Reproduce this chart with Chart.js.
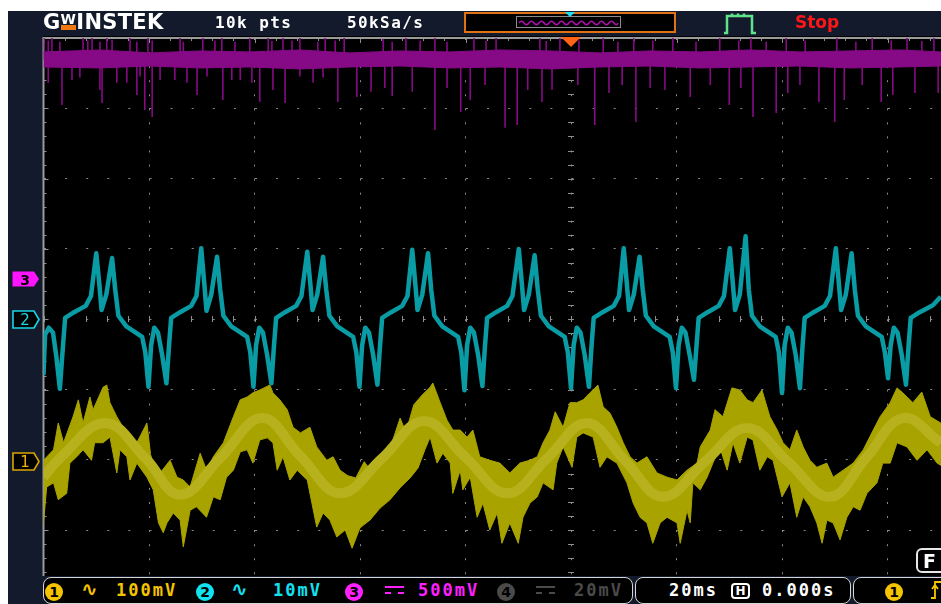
<!DOCTYPE html>
<html>
<head>
<meta charset="utf-8">
<script src="https://cdn.jsdelivr.net/npm/chart.js@4.4.1/dist/chart.umd.min.js"></script>
<style>
  html, body { margin:0; padding:0; background:#fff; }
  body { width:941px; height:604px; position:relative; overflow:hidden; font-family:"DejaVu Sans Mono", monospace; }
  .abs { position:absolute; }
  #frame { left:8px; top:11px; width:933px; height:593px; background:#131a2b; }
  #plot { left:43px; top:36px; width:898px; height:568px; background:#000; }
  #cv { position:absolute; left:0; top:0; }
  .hd { color:#fff; font-size:16px; font-weight:bold; letter-spacing:1.4px; top:14px; line-height:18px; }
  #logo { left:43px; top:11px; color:#fff; font:bold 21px "DejaVu Sans", sans-serif; letter-spacing:0.3px; line-height:22px; }
  #logo .w { display:inline-block; font-size:14px; line-height:11px; border-bottom:5px solid #f07a10; vertical-align:top; margin-top:3px; }
  #stop { left:795px; top:12px; color:#ff1616; font:bold 17px "DejaVu Sans", sans-serif; }
  .box { border:1.5px solid #d6d6d6; border-radius:8px; background:#000; box-sizing:border-box; }
  .lbl { font-weight:bold; font-size:17px; letter-spacing:2px; line-height:18px; top:581px; }
  .num { width:18px; height:18px; border-radius:50%; top:583px; color:#000; font:bold 14px "DejaVu Sans", sans-serif; text-align:center; line-height:18px; }
  .wave { top:578px; font:bold 20px "DejaVu Sans", sans-serif; line-height:22px; }
  .dc { top:586px; width:19px; height:4px; border-top:2px solid; border-bottom:2px dashed; }
  .mk { left:12px; }
</style>
</head>
<body>
<div id="frame" class="abs"></div>
<div id="plot" class="abs"></div>
<canvas id="cv" width="941" height="604"></canvas>

<!-- header -->
<div class="abs" style="left:8px;top:11px;width:933px;height:25px;background:#131a2b;"></div>
<div id="logo" class="abs">G<span class="w">W</span>INSTEK</div>
<div class="abs hd" style="left:215px;">10k pts</div>
<div class="abs hd" style="left:347px;">50kSa/s</div>
<div class="abs" style="left:464px;top:12px;width:212px;height:21px;border:2px solid #e07212;background:#000;box-sizing:border-box;"></div>
<svg class="abs" style="left:516px;top:16px;" width="106" height="13">
  <rect x="0.5" y="0.5" width="104" height="11" fill="none" stroke="#8c8c8c"/>
  <path d="M3,7 Q5.5,3.5 8,7 T13,7 T18,7 T23,7 T28,7 T33,7 T38,7 T43,7 T48,7 T53,7 T58,7 T63,7 T68,7 T73,7 T78,7 T83,7 T88,7 T93,7 T98,7 T102,7" fill="none" stroke="#b010b0" stroke-width="1.5"/>
</svg>
<svg class="abs" style="left:565px;top:12px;" width="11" height="6"><polygon points="0,0 10,0 5,5" fill="#1ee0f0"/></svg>
<svg class="abs" style="left:722px;top:13px;" width="36" height="22">
  <path d="M2,20 H5 V3 H30 V20 H34 M10,3 V0.5 M16,3 V0.5 M22,3 V0.5" fill="none" stroke="#5fe38a" stroke-width="2.5"/>
</svg>
<div id="stop" class="abs">Stop</div>
<svg id="trig" class="abs" style="top:37px;" width="20" height="11"><polygon points="0,0 20,0 10,10" fill="#ff6416"/></svg>

<!-- channel markers -->
<svg id="m3" class="abs mk" width="28" height="16"><polygon points="0.5,0.5 22,0.5 27,8 22,15.5 0.5,15.5" fill="#ff14ff"/><text x="13" y="13.5" text-anchor="middle" font-family="DejaVu Sans" font-weight="bold" font-size="14" fill="#000">3</text></svg>
<svg id="m2" class="abs mk" width="29" height="19"><polygon points="1,1 22,1 27,9.5 22,18 1,18" fill="#000" stroke="#19d6e6" stroke-width="1.6"/><text x="13" y="15" text-anchor="middle" font-family="DejaVu Sans" font-size="15" fill="#19d6e6">2</text></svg>
<svg id="m1" class="abs mk" width="29" height="19"><polygon points="1,1 22,1 27,9.5 22,18 1,18" fill="#000" stroke="#dca400" stroke-width="1.6"/><text x="13" y="15" text-anchor="middle" font-family="DejaVu Sans" font-size="15" fill="#f0b400">1</text></svg>

<!-- F box -->
<div class="abs box" style="left:916px;top:548px;width:40px;height:25px;border:2px solid #e8e8e8;border-radius:6px;"></div>
<div class="abs" style="left:923px;top:550px;color:#fff;font:bold 19px 'DejaVu Sans',sans-serif;">F</div>

<!-- bottom bar -->
<div class="abs" style="left:8px;top:576px;width:933px;height:28px;background:#131a2b;"></div>
<div class="abs box" style="left:43px;top:577px;width:590px;height:27px;"></div>
<div class="abs box" style="left:635px;top:577px;width:216px;height:27px;"></div>
<div class="abs box" style="left:853px;top:577px;width:100px;height:27px;"></div>

<div class="abs num" style="left:45px;background:#f5c400;">1</div>
<div class="abs wave" style="left:81px;color:#f5c400;">∿</div>
<div class="abs lbl" style="left:116px;color:#f5c400;">100mV</div>
<div class="abs num" style="left:196px;background:#10e2f0;">2</div>
<div class="abs wave" style="left:231px;color:#10e2f0;">∿</div>
<div class="abs lbl" style="left:273px;color:#10e2f0;">10mV</div>
<div class="abs num" style="left:345px;background:#ff20ff;">3</div>
<div class="abs dc" style="left:385px;color:#ff20ff;"></div>
<div class="abs lbl" style="left:418px;color:#ff20ff;">500mV</div>
<div class="abs num" style="left:497px;background:#4a4a4a;">4</div>
<div class="abs dc" style="left:536px;color:#4a4a4a;"></div>
<div class="abs lbl" style="left:574px;color:#4a4a4a;">20mV</div>

<div class="abs lbl" style="left:669px;color:#fff;">20ms</div>
<div class="abs" style="left:731px;top:583px;width:19px;height:16px;border:2px solid #fff;border-radius:4px;box-sizing:border-box;color:#fff;font:bold 12px 'DejaVu Sans',sans-serif;text-align:center;line-height:12px;">H</div>
<div class="abs lbl" style="left:762px;color:#fff;">0.000s</div>

<div class="abs num" style="left:885px;background:#f5c400;">1</div>
<svg class="abs" style="left:930px;top:580px;" width="11" height="20"><path d="M1,18 H5 V2 H11 M2,9 L5,5 L8,9" fill="none" stroke="#f5c400" stroke-width="1.8"/></svg>

<script>
// time in ms (20 ms/div, trigger at 0), values in mV
const gridTimes = [-100, -80, -60, -40, -20, 0, 20, 40, 60];
const gridDivs = [-4, -3, -2, -1, 0, 1, 2, 3, 4];

// CH1 (yellow), noisy band: top edge, bottom edge, brighter middle
const ch1Upper = [
  [-100, 1], [-98.1, 16], [-97.2, 54], [-96.2, 26], [-94.4, 63], [-93.4, 87], [-92.5, 54], [-91.2, 91], [-90.6, 73],
  [-88.7, 105], [-88.0, 108], [-87.4, 83], [-86.1, 63], [-84.9, 48], [-83.6, 20], [-82.3, 26], [-80.4, 54], [-79.7, 9],
  [-79.2, -3], [-77.9, -17], [-76.0, 1], [-74.7, -23], [-73.5, -27], [-72.2, -37], [-70.3, 11], [-69.1, -13], [-67.8, 6],
  [-65.9, 26], [-64.0, 63], [-62.7, 87], [-61.4, 91], [-60.3, 97], [-59.0, 101], [-57.1, 108], [-56.5, 97], [-55.2, 87],
  [-53.8, 73], [-52.7, 48], [-51.3, 40], [-49.5, 48], [-48.2, 20], [-46.3, 1], [-45.1, 6], [-43.8, -13], [-42.3, -21],
  [-40.8, -24], [-39.2, -1], [-37.7, -16], [-35.8, 4], [-33.9, 27], [-32.4, 61], [-31.3, 41], [-29.8, 80], [-28.2, 94],
  [-26.7, 105], [-26.2, 111], [-24.8, 83], [-23.5, 58], [-22.4, 44], [-21.0, 44], [-19.7, 34], [-18.6, 44], [-17.3, 6],
  [-15.4, 1], [-13.5, -3], [-11.6, -17], [-9.7, -3], [-7.8, 1], [-6.4, 6], [-5.3, 26], [-4.0, 44], [-3.0, 70], [-1.5, 48],
  [-0.2, 83], [1.1, 83], [2.3, 87], [3.6, 97], [5.1, 108], [6.1, 77], [7.4, 68], [8.7, 48], [9.9, 26], [11.2, 6],
  [12.5, -3], [14.4, 6], [16.3, -17], [18.2, -23], [20.1, -27], [22.0, -13], [23.9, -3], [24.5, 20], [26.4, 44],
  [27.3, 73], [28.8, 63], [30.5, 104], [32.0, 101], [33.4, 87], [34.5, 83], [36.2, 101], [37.7, 63], [39.1, 44],
  [40.2, 26], [41.5, 16], [42.8, 44], [44.0, 20], [45.3, 1], [46.6, -9], [48.5, -3], [49.7, -23], [51.6, -13],
  [53.5, -3], [55.4, 16], [57.3, 44], [58.6, 63], [60.5, 83], [61.8, 104], [62.9, 97], [64.8, 83], [66.5, 98],
  [68.1, 63], [70.1, 54]
];
const ch1Lower = [
  [-100, -88], [-99.4, -37], [-98.1, -31], [-97.2, -55], [-95.6, -46], [-95.0, -3], [-93.7, 6], [-92.5, 16], [-90.9, 1],
  [-90.3, 26], [-88.7, 26], [-87.4, 34], [-86.1, -17], [-85.5, 16], [-84.2, 6], [-83.6, -27], [-82.3, -3], [-80.4, -23],
  [-79.2, -41], [-78.2, -88], [-77.3, -102], [-76.6, -88], [-75.4, -74], [-74.1, -84], [-73.5, -122], [-72.2, -70],
  [-71.0, -65], [-69.1, -80], [-67.8, -51], [-66.5, -55], [-65.3, -23], [-64.0, -13], [-62.7, 13], [-61.4, 16],
  [-60.3, -3], [-59.0, 30], [-57.6, 33], [-56.5, 26], [-55.7, -13], [-54.6, 6], [-53.3, -27], [-51.9, -13], [-50.0, -27],
  [-48.2, -94], [-47.0, -74], [-45.7, -84], [-44.4, -108], [-42.8, -98], [-41.5, -124], [-40.0, -95], [-38.1, -84],
  [-36.2, -67], [-34.3, -55], [-32.4, -38], [-30.5, -24], [-29.0, -10], [-27.7, 16], [-26.7, 34], [-25.4, -3],
  [-24.3, 11], [-22.9, -3], [-22.4, -46], [-21.0, -13], [-20.5, -41], [-19.1, -23], [-17.8, -80], [-16.7, -60],
  [-15.4, -98], [-14.0, -74], [-13.1, -117], [-11.6, -88], [-10.0, -117], [-9.1, -80], [-7.8, -60], [-6.4, -51],
  [-5.3, -31], [-3.4, -41], [-2.7, -3], [-1.5, 20], [0.2, -9], [1.1, 34], [2.3, 40], [4.2, 34], [5.5, -9], [6.8, 6],
  [8.7, -3], [10.6, -31], [11.8, -60], [13.1, -80], [14.4, -88], [15.5, -117], [16.9, -88], [18.2, -80], [20.1, -88],
  [20.7, -117], [22.0, -70], [22.6, -88], [23.1, -31], [24.5, -41], [25.8, -23], [26.9, -3], [28.2, 20], [29.6, -13],
  [30.7, 26], [32.0, -3], [33.4, 34], [34.5, 30], [35.8, -13], [37.2, 6], [38.3, 1], [40.0, -51], [41.5, -31],
  [42.8, -80], [44.0, -51], [45.3, -65], [46.6, -88], [47.6, -117], [48.5, -84], [49.7, -88], [51.0, -112], [52.3, -80],
  [53.5, -65], [54.8, -70], [56.1, -46], [58.0, -31], [59.1, -3], [60.5, -3], [61.8, 26], [63.7, 20], [65.6, 1],
  [67.5, 16], [69.4, -3], [70.1, -6]
];
const ch1Core = [
  [-100, -23], [-96.9, 4], [-88.3, 54], [-80.7, 4], [-74.1, -48], [-66.5, 4], [-58.6, 61], [-51.3, 7], [-43.8, -46],
  [-35.8, 4], [-27.9, 57], [-20.1, 6], [-12.1, -46], [-4.5, 4], [3.0, 54], [10.2, 1], [17.4, -51], [25.4, -1],
  [33.4, 47], [41.1, -1], [49.1, -51], [55.9, 4], [62.9, 61], [70.1, 26]
];

// CH2 (cyan)
const ch2Trace = [
  [-100, -7.8], [-99.7, -2.1], [-99.0, -1.1], [-98.2, -1.8], [-97.6, -5.0], [-96.9, -9.8], [-96.3, -3.6], [-95.9, 0.3],
  [-94.2, 1.1], [-92.0, 2.0], [-91.0, 3.4],
  [-90.0, 9.5], [-89.4, 5.0], [-89.0, 1.4], [-88.1, 3.6], [-87.0, 8.8], [-86.4, 4.3], [-85.8, 0.6], [-84.3, -0.9],
  [-81.3, -2.4], [-80.7, -4.6], [-80.1, -9.5], [-79.6, -3.6], [-79.0, -1.1], [-78.3, -1.8], [-77.5, -5.0], [-76.7, -9.0],
  [-76.2, -3.6], [-75.8, 0.3], [-74.1, 1.1], [-72.0, 2.0], [-71.0, 3.4],
  [-70.1, 10.2], [-69.5, 5.0], [-69.1, 1.3], [-68.2, 3.6], [-67.1, 9.0], [-66.5, 4.3], [-65.9, 0.6], [-64.4, -0.9],
  [-61.4, -2.4], [-60.8, -4.6], [-60.2, -9.5], [-59.7, -3.6], [-59.1, -1.1], [-58.4, -1.8], [-57.6, -5.0], [-56.8, -9.0],
  [-56.3, -3.6], [-55.9, 0.3], [-54.2, 1.1], [-52.1, 2.0], [-51.1, 3.4],
  [-50.0, 9.7], [-49.4, 5.0], [-49.0, 1.4], [-48.1, 3.6], [-47.0, 9.0], [-46.4, 4.3], [-45.8, 0.6], [-44.3, -0.9],
  [-41.3, -2.4], [-40.7, -4.6], [-40.1, -9.5], [-39.6, -3.6], [-39.0, -1.1], [-38.3, -1.8], [-37.5, -5.0], [-36.7, -9.2],
  [-36.2, -3.6], [-35.8, 0.3], [-34.1, 1.1], [-32.0, 2.0], [-31.0, 3.4],
  [-30.1, 10.0], [-29.5, 5.0], [-29.1, 1.4], [-28.2, 3.6], [-27.1, 9.5], [-26.5, 4.3], [-25.9, 0.6], [-24.4, -0.9],
  [-21.4, -2.4], [-20.8, -4.6], [-20.2, -10.0], [-19.7, -3.6], [-19.1, -1.1], [-18.4, -1.8], [-17.6, -5.0], [-16.8, -9.4],
  [-16.3, -3.6], [-15.9, 0.3], [-14.2, 1.1], [-12.1, 2.0], [-11.1, 3.4],
  [-9.9, 10.1], [-9.3, 5.0], [-8.9, 1.4], [-8.0, 3.6], [-6.9, 9.2], [-6.3, 4.3], [-5.7, 0.6], [-4.2, -0.9],
  [-1.2, -2.4], [-0.6, -4.6], [0.0, -9.7], [0.5, -3.6], [1.1, -1.1], [1.8, -1.8], [2.6, -5.0], [3.4, -9.5],
  [3.9, -3.6], [4.3, 0.3], [6.0, 1.1], [8.1, 2.0], [9.1, 3.4],
  [10.0, 10.2], [10.6, 5.0], [11.0, 1.4], [11.9, 3.6], [13.0, 9.0], [13.6, 4.3], [14.2, 0.6], [15.7, -0.9],
  [18.7, -2.4], [19.3, -4.6], [19.9, -9.7], [20.4, -3.6], [21.0, -1.1], [21.7, -1.8], [22.5, -5.0], [23.3, -8.5],
  [23.8, -3.6], [24.2, 0.3], [25.9, 1.1], [28.0, 2.0], [29.0, 3.4],
  [30.1, 10.2], [30.7, 5.0], [31.1, 1.4], [32.0, 3.6], [33.1, 11.9], [33.7, 4.3], [34.3, 0.6], [35.8, -0.9],
  [38.8, -2.4], [39.4, -4.6], [40.0, -10.4], [40.5, -3.6], [41.1, -1.1], [41.8, -1.8], [42.6, -5.0], [43.4, -9.7],
  [43.9, -3.6], [44.3, 0.3], [46.0, 1.1], [48.1, 2.0], [49.1, 3.4],
  [50.2, 10.2], [50.8, 5.0], [51.2, 1.4], [52.1, 3.6], [53.2, 9.5], [53.8, 4.3], [54.4, 0.6], [55.9, -0.9],
  [58.9, -2.4], [59.5, -4.6], [60.1, -8.3], [60.6, -3.6], [61.2, -1.1], [61.9, -1.8], [62.7, -5.0], [63.5, -9.2],
  [64.0, -3.6], [64.4, 0.3], [66.1, 1.1], [68.6, 2.1], [70.1, 3.3]
];

// CH3 (magenta), DC level with glitches
const ch3Top = [
  [-100, 1618], [-89.3, 1632], [-79.8, 1611], [-70.3, 1625], [-60.9, 1618], [-51.4, 1632], [-41.9, 1611], [-32.4, 1625],
  [-22.9, 1618], [-13.5, 1632], [-4.0, 1625], [5.5, 1611], [15.0, 1625], [24.5, 1618], [33.9, 1632], [43.4, 1618],
  [52.9, 1625], [62.4, 1632], [70.1, 1618]
];
const ch3Bottom = [
  [-100, 1511], [-89.3, 1504], [-79.8, 1518], [-70.3, 1504], [-60.9, 1511], [-51.4, 1497], [-41.9, 1511], [-32.4, 1518],
  [-22.9, 1504], [-13.5, 1511], [-4.0, 1497], [5.5, 1511], [15.0, 1518], [24.5, 1504], [33.9, 1511], [43.4, 1518],
  [52.9, 1504], [62.4, 1511], [70.1, 1518]
];
const ch3Level = 1565;
const ch3SpikesDown = [
  [-99.1, 1398], [-96.5, 1241], [-94.6, 1419], [-93.1, 1437], [-89.3, 1348], [-88.9, 1255], [-86.1, 1398], [-84.2, 1398],
  [-82.3, 1312], [-81.7, 1444], [-80.8, 1205], [-79.4, 1156], [-77.9, 1419], [-75.1, 1419], [-72.8, 1398], [-70.9, 1312],
  [-69.0, 1444], [-66.0, 1277], [-64.3, 1419], [-62.7, 1419], [-60.5, 1398], [-59.0, 1262], [-56.5, 1348], [-54.2, 1255],
  [-51.4, 1444], [-48.9, 1398], [-47.0, 1437], [-44.2, 1262], [-40.6, 1298], [-37.9, 1334], [-35.3, 1362], [-33.9, 1305],
  [-30.1, 1334], [-25.8, 1063], [-23.5, 1362], [-20.9, 1191], [-19.1, 1277], [-16.3, 1383], [-12.5, 1078], [-10.2, 1099],
  [-8.2, 1348], [-5.5, 1262], [-3.6, 1348], [1.3, 1383], [4.5, 1099], [7.2, 1326], [9.7, 1383], [12.3, 1120],
  [15.0, 1362], [17.8, 1348], [22.6, 1298], [26.4, 1383], [30.0, 1241], [32.2, 1362], [34.5, 1156], [38.9, 1184],
  [41.1, 1326], [43.4, 1383], [47.0, 1262], [50.0, 1120], [51.8, 1277], [55.2, 1383], [58.8, 1262], [61.0, 1312],
  [65.2, 1326], [69.6, 1326]
];
const ch3SpikesUp = [
  [-99.9, 1720], [-99.1, 1700], [-98.4, 1720], [-96.9, 1690], [-92.5, 1720], [-91.6, 1700], [-90.8, 1720], [-89.3, 1690],
  [-88.0, 1720], [-87.0, 1705], [-83.6, 1720], [-82.3, 1690], [-80.2, 1720], [-79.4, 1700], [-74.1, 1720], [-73.5, 1690],
  [-69.8, 1720], [-67.5, 1700], [-66.2, 1720], [-63.7, 1690], [-60.9, 1720], [-57.4, 1720], [-56.7, 1695], [-54.6, 1720],
  [-52.9, 1700], [-51.4, 1720], [-48.0, 1690], [-46.6, 1720], [-44.7, 1700], [-43.0, 1720], [-35.6, 1710], [-33.9, 1690],
  [-31.3, 1720], [-28.6, 1700], [-25.8, 1720], [-23.5, 1690], [-18.4, 1720], [-16.1, 1700], [-14.2, 1720], [-5.9, 1720],
  [-4.7, 1695], [-2.1, 1720], [1.5, 1700], [6.1, 1720], [8.9, 1690], [11.9, 1720], [15.5, 1700], [19.3, 1720],
  [23.7, 1690], [28.2, 1720], [31.8, 1700], [34.1, 1720], [37.0, 1690], [40.8, 1720], [44.4, 1700], [50.4, 1720],
  [54.0, 1690], [57.1, 1720], [60.7, 1700], [63.7, 1720], [66.5, 1695], [68.8, 1720]
];

// vertical settings: mV per division and ground marker position in divisions
const ch1 = { mvDiv: 100, off: -2.016 };
const ch2 = { mvDiv: 10, off: -0.01 };
const ch3 = { mvDiv: 500, off: 0.566 };

const toDiv = (pts, c) => pts.map(([t, mv]) => ({ x: t, y: mv / c.mvDiv + c.off }));
const spikes = (pts, base, c) => pts.flatMap(([t, mv]) => [
  { x: t, y: base / c.mvDiv + c.off }, { x: t, y: mv / c.mvDiv + c.off }, { x: t, y: null }
]);
// closed outline: top edge left to right, bottom edge back
const band = (top, bottom, c) => toDiv(top.concat(bottom.slice().reverse()), c);

const YEL = '#a9a300', CYA = '#0a9ca4', MAG = '#860a86';

// crosshair ticks and frame, like the scope graticule
const graticule = {
  id: 'graticule',
  beforeDatasetsDraw(chart) {
    const { ctx, chartArea: a, scales: { x, y } } = chart;
    const dw = (x.getPixelForValue(-80) - x.getPixelForValue(-100)) / 5;
    const dh = (y.getPixelForValue(3) - y.getPixelForValue(4)) / 5;
    const cx = Math.round(x.getPixelForValue(0)), cy = Math.round(y.getPixelForValue(0));
    ctx.save();
    ctx.fillStyle = '#8e8e8e';
    for (let py = a.top, i = 0; py < a.bottom; py += dh, i++) {
      ctx.fillRect(cx - 3, Math.round(py), 6, 1);
      ctx.fillRect(a.left, Math.round(py), i % 5 ? 3 : 5, 1);
    }
    for (let px = a.left, i = 0; px < a.right; px += dw, i++) {
      ctx.fillRect(Math.round(px), cy - 3, 1, 6);
      ctx.fillRect(Math.round(px), a.top, 1, i % 5 ? 3 : 5);
    }
    ctx.fillStyle = '#9a9a9a';
    ctx.fillRect(a.left - 1, a.top, 2, a.bottom - a.top);
    ctx.fillRect(a.left - 1, a.top - 1, a.right - a.left + 1, 2);
    ctx.restore();
  }
};

const chart = new Chart(document.getElementById('cv'), {
  type: 'line',
  data: {
    datasets: [
      { data: toDiv(ch1Core, ch1), borderColor: '#b6b11c', borderWidth: 10, tension: 0.4, order: 0 },
      { data: band(ch1Upper, ch1Lower, ch1), borderColor: YEL, backgroundColor: YEL, borderWidth: 1, fill: 'shape', order: 1 },
      { data: toDiv(ch2Trace, ch2), borderColor: CYA, borderWidth: 4.5, borderJoinStyle: 'round', order: 3 },
      { data: spikes(ch3SpikesDown, ch3Level, ch3), borderColor: MAG, borderWidth: 1.6, order: 4 },
      { data: spikes(ch3SpikesUp, ch3Level, ch3), borderColor: MAG, borderWidth: 1.6, order: 5 },
      { data: band(ch3Top, ch3Bottom, ch3), borderColor: MAG, backgroundColor: MAG, borderWidth: 1, fill: 'shape', order: 6 }
    ]
  },
  options: {
    responsive: false,
    animation: false,
    events: [],
    layout: { padding: { left: 43.5, top: 38, right: 0, bottom: 3.5 } },
    elements: { point: { radius: 0 }, line: { tension: 0 } },
    plugins: { legend: { display: false }, tooltip: { enabled: false } },
    scales: {
      x: {
        type: 'linear', min: -100, max: 70.14,
        afterBuildTicks: s => { s.ticks = gridTimes.map(v => ({ value: v })); },
        ticks: { display: false },
        grid: { color: '#8a8a8a', lineWidth: 1, drawTicks: false },
        border: { display: false, dash: [2, 12.06] }
      },
      y: {
        type: 'linear', min: -4, max: 4,
        afterBuildTicks: s => { s.ticks = gridDivs.map(v => ({ value: v })); },
        ticks: { display: false },
        grid: { color: '#8a8a8a', lineWidth: 1, drawTicks: false },
        border: { display: false, dash: [2, 19.1] }
      }
    }
  },
  plugins: [graticule]
});

// place the ground markers and trigger arrow from the scales
const ys = chart.scales.y, xs = chart.scales.x;
document.getElementById('m1').style.top = (ys.getPixelForValue(ch1.off) - 9.5) + 'px';
document.getElementById('m2').style.top = (ys.getPixelForValue(ch2.off) - 9.5) + 'px';
document.getElementById('m3').style.top = (ys.getPixelForValue(ch3.off) - 8) + 'px';
document.getElementById('trig').style.left = (xs.getPixelForValue(0) - 10) + 'px';
</script>
</body>
</html>
